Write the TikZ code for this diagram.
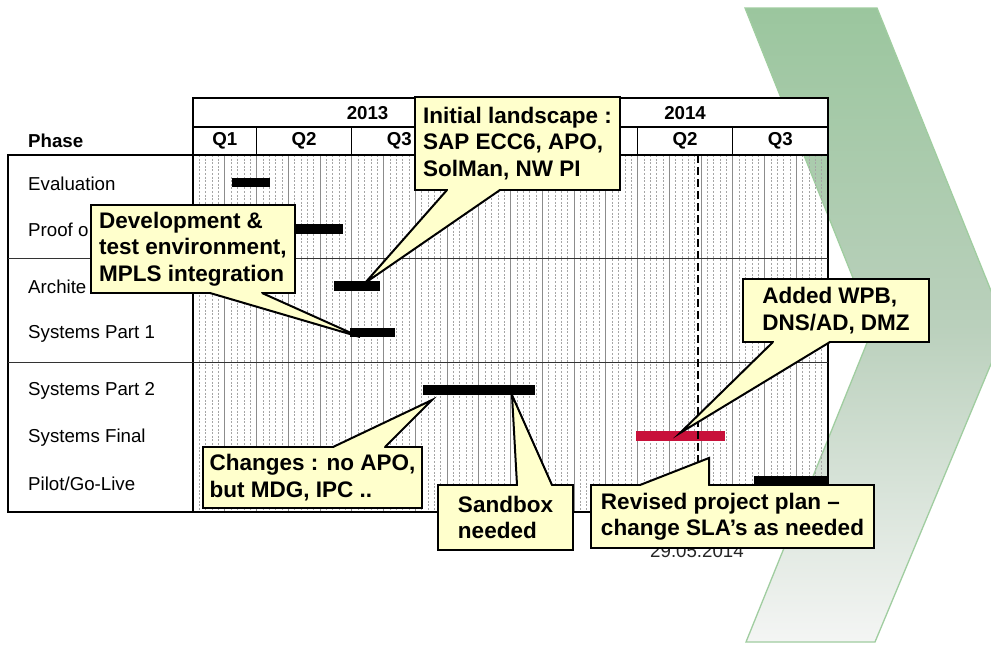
\documentclass[tikz,border=0pt]{standalone}
\usepackage{fontspec}
\setmainfont{Liberation Sans}
\usetikzlibrary{calc}
\definecolor{callfill}{HTML}{FFFFCC}
\definecolor{chevtop}{RGB}{155,198,158}
\definecolor{chevmid}{RGB}{186,208,188}
\definecolor{chevbot}{RGB}{244,245,244}
\definecolor{chevline}{RGB}{160,205,160}
\definecolor{barred}{RGB}{200,16,58}
\definecolor{gridgray}{RGB}{140,140,140}
\definecolor{weekgray}{RGB}{165,165,165}
\begin{document}
\begin{tikzpicture}[x=1pt,y=-1pt,
  lbl/.style={anchor=west, inner sep=0, font=\fontsize{18.7}{22}\selectfont},
  hdr/.style={inner sep=0, font=\bfseries\fontsize{18.7}{22}\selectfont},
  bar/.style={fill=black, draw=none, inner sep=0},
  call/.style={draw=black, line width=2pt, fill=callfill, align=left, inner sep=0,
               font=\bfseries\fontsize{22.5}{26.5}\selectfont},
  ptr/.style={draw=black, line width=2pt, line join=miter},
  monthline/.style={draw=gridgray, line width=0.9pt},
  weekline/.style={draw=weekgray, line width=0.6pt, dash pattern=on 2pt off 1.6pt},
  tabline/.style={draw=black, line width=1.2pt},
  todayline/.style={draw=black, line width=1.5pt, dash pattern=on 8pt off 4pt}
]
\useasboundingbox (0,0) rectangle (991,645);
\fill[white] (0,0) rectangle (991,645);

% chevron
\shade[top color=chevtop, bottom color=chevbot, middle color=chevmid]
  (745,8) -- (877,8) -- (1006,328) -- (875,642) -- (746,642) -- (873,328) -- cycle;
\draw[chevline, line width=1.3pt, line join=miter]
  (745,8) -- (877,8) -- (1006,328) -- (875,642) -- (746,642) -- (873,328) -- cycle;

% header
\draw[tabline, fill=white] (193,98) rectangle (828,155);
\draw[tabline] (193,127) -- (828,127);
\draw[tabline] (542.25,98) -- (542.25,127);
\foreach \i in {2,5,8,11,14,17} \draw[tabline] ({193+31.75*\i},127) -- ({193+31.75*\i},155);
\node[hdr] (y13) at (367.6,113) {2013};
\node[hdr] (y14) at (685.1,113) {2014};
\node[hdr] (q1a) at (224.75,141) {Q1};
\node[hdr] (q2a) at (304.1,141) {Q2};
\node[hdr] (q3a) at (399.4,141) {Q3};
\node[hdr] (q2b) at (685.1,141) {Q2};
\node[hdr] (q3b) at (780.4,141) {Q3};
\node[hdr, anchor=west] (phase) at (28,141) {Phase};

% grid
\foreach \i in {0,...,19} {
  \foreach \j in {1,...,4} {
    \draw[weekline] ({193+31.75*\i+6.35*\j},155) -- ({193+31.75*\i+6.35*\j},512);
  }
}
\foreach \i in {1,...,19} \draw[monthline] ({193+31.75*\i},155) -- ({193+31.75*\i},512);

% table frame
\draw[tabline] (8,155) rectangle (828,512);
\draw[tabline] (193,155) -- (193,512);
\draw[draw=black!80, line width=1pt] (8,258) -- (828,258);
\draw[draw=black!80, line width=1pt] (8,362) -- (828,362);

% row labels
\node[lbl] (r1) at (28,184) {Evaluation};
\node[lbl] (r2) at (28,230) {Proof o};
\node[lbl] (r3) at (28,287) {Archite};
\node[lbl] (r4) at (28,334) {Systems Part 1};
\node[lbl] (r5) at (28,391) {Systems Part 2};
\node[lbl] (r6) at (28,438) {Systems Final};
\node[lbl] (r7) at (28,484) {Pilot/Go-Live};

% bars
\node[bar, minimum width=38, minimum height=9] (b1) at (251,182.5) {};
\node[bar, minimum width=55, minimum height=10] (b2) at (315.5,228.5) {};
\node[bar, minimum width=46, minimum height=10] (b3) at (357,286) {};
\node[bar, minimum width=45, minimum height=9] (b4) at (372.5,332.5) {};
\node[bar, minimum width=112, minimum height=10] (b5) at (479,390) {};
\node[bar, fill=barred, minimum width=89, minimum height=10] (b6) at (680.5,436) {};
\node[bar, minimum width=74, minimum height=10] (b7) at (791,481) {};

% today line and date
\draw[todayline] (698,155) -- (698,462);
\node[anchor=base, inner sep=0, text=black!85, font=\fontsize{18.7}{22}\selectfont] (date) at (697,557) {29.05.2014};

% callout 1
\node[call, minimum width=205, minimum height=93] (c1) at (517.5,143.5) {Initial landscape :\\SAP ECC6, APO,\\SolMan, NW PI};
\coordinate (t1) at (365,283);
\fill[callfill] (448,186) -- (448,190) -- (t1) -- (499,190) -- (499,186) -- cycle;
\draw[ptr] (447,190) -- (t1) -- (500,190);

% callout 2
\node[call, minimum width=204, minimum height=88] (c2) at (193,249) {Development \&\\test environment,\\MPLS integration};
\coordinate (t2) at (360,337);
\fill[callfill] (211,289) -- (211,293) -- (t2) -- (261,293) -- (261,289) -- cycle;
\draw[ptr] (210,293) -- (t2) -- (262,293);

% callout 3
\node[call, minimum width=219, minimum height=61] (c3) at (312.5,477.5) {Changes : no APO,\\but MDG, IPC ..};
\coordinate (t3) at (432,400);
\fill[callfill] (334,451) -- (334,447) -- (t3) -- (384,447) -- (384,451) -- cycle;
\draw[ptr] (333,447) -- (t3) -- (385,447);

% callout 4
\node[call, minimum width=135, minimum height=65] (c4) at (505.5,517.5) {Sandbox\\needed};
\coordinate (t4) at (512,395);
\fill[callfill] (518,489) -- (518,485) -- (t4) -- (551,485) -- (551,489) -- cycle;
\draw[ptr] (517,485) -- (t4) -- (552,485);

% callout 5
\node[call, minimum width=186, minimum height=63] (c5) at (836,310.5) {Added WPB,\\DNS/AD, DMZ};
\coordinate (t5) at (680,433);
\fill[callfill] (774,338) -- (774,342) -- (t5) -- (829,342) -- (829,338) -- cycle;
\draw[ptr] (773,342) -- (t5) -- (830,342);

% callout 6
\node[call, minimum width=283, minimum height=63] (c6) at (732.5,516.5) {Revised project plan –\\change SLA’s as needed};
\coordinate (t6) at (709,458);
\fill[callfill] (641,489) -- (641,485) -- (t6) -- (708,485) -- (708,489) -- cycle;
\draw[ptr] (640,485) -- (t6) -- (709,485);
\end{tikzpicture}
\end{document}
